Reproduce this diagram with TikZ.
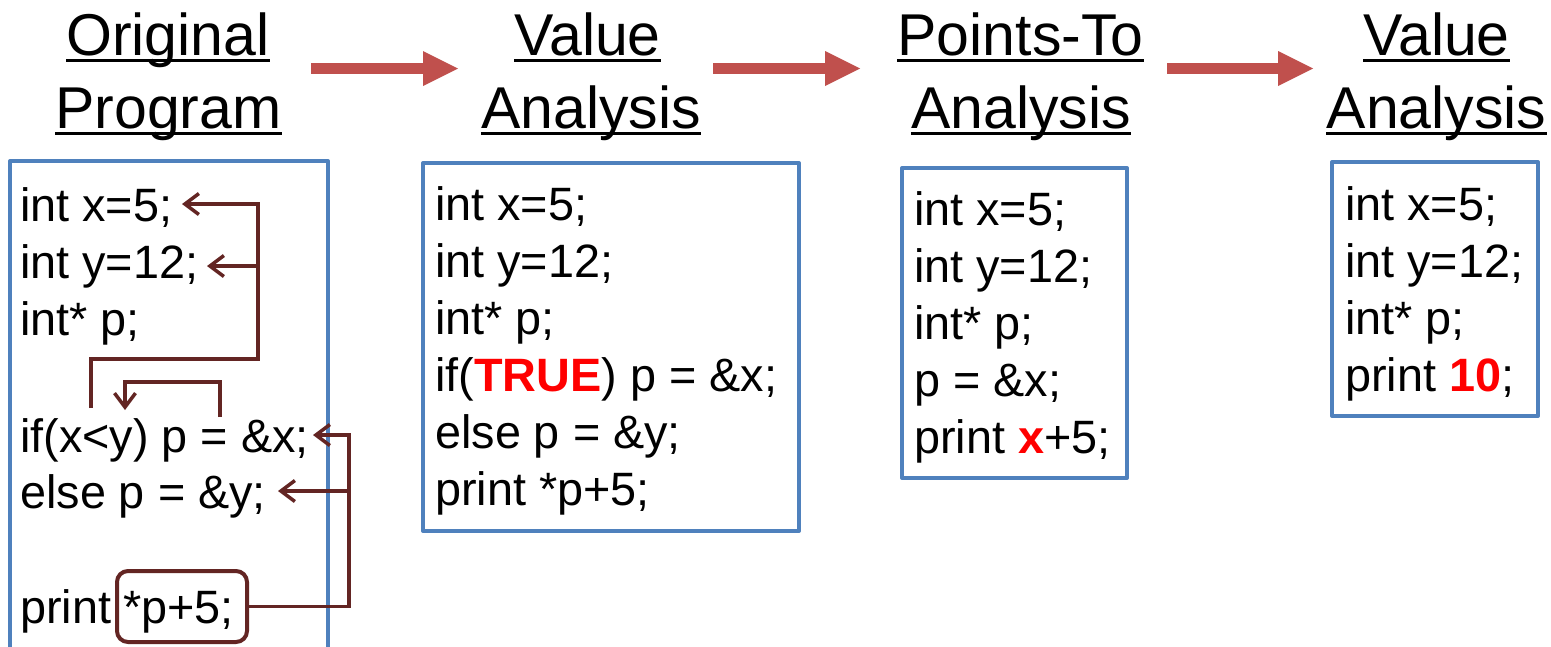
\documentclass[tikz,border=0pt]{standalone}
\usepackage{fontspec}
\setmainfont{Liberation Sans}
\usetikzlibrary{arrows.meta}
\definecolor{boxblue}{HTML}{4F81BD}
\definecolor{arrred}{HTML}{C0504D}
\definecolor{connred}{HTML}{632523}
\definecolor{hired}{HTML}{FF0000}
\begin{document}
\begin{tikzpicture}[x=1pt,y=-1pt,
  title/.style={anchor=base, inner sep=0pt, font=\fontsize{59}{65}\selectfont},
  code/.style={anchor=base west, inner sep=0pt, font=\fontsize{46.8}{50}\selectfont},
  codebox/.style={draw=boxblue, line width=4pt, line join=round},
  bigarrow/.style={draw=arrred, line width=11pt, -{Triangle[length=35pt,width=35pt,line width=0pt]}},
  conn/.style={draw=connred, line width=3.5pt},
  connarrow/.style={conn, -{Straight Barb[length=14pt,width=21pt]}},
  uline/.style={line width=3pt}]
\useasboundingbox (0,0) rectangle (1551,646);

% titles
\node[title] (t1a) at (168,55) {Original};
\node[title] (t1b) at (168.5,128) {Program};
\node[title] (t2a) at (587.5,55) {Value};
\node[title] (t2b) at (591,128) {Analysis};
\node[title] (t3a) at (1020.5,55) {Points-To};
\node[title] (t3b) at (1021,128) {Analysis};
\node[title] (t4a) at (1436.5,55) {Value};
\node[title] (t4b) at (1436.5,128) {Analysis};
\foreach \t in {t1a,t1b,t2a,t2b,t3a,t3b,t4a,t4b}
  \draw[uline] ([yshift=-5.5pt]\t.base west) -- ([yshift=-5.5pt]\t.base east);

% big arrows
\coordinate (a1s) at (311,68.5); \coordinate (a1e) at (458,68.5);
\coordinate (a2s) at (713,68.5); \coordinate (a2e) at (860,68.5);
\coordinate (a3s) at (1167,68.5); \coordinate (a3e) at (1313,68.5);
\draw[bigarrow] (a1s) -- (a1e);
\draw[bigarrow] (a2s) -- (a2e);
\draw[bigarrow] (a3s) -- (a3e);

% boxes
\draw[codebox] (10,161) rectangle (328,680);
\draw[codebox] (423,163) rectangle (799,531);
\draw[codebox] (902,168) rectangle (1127,478);
\draw[codebox] (1332,162) rectangle (1538,416);

% box 1 text
\node[code] (o1) at (20,221) {int x=5;};
\node[code] (o2) at (20,278) {int y=12;};
\node[code] (o3) at (20,335) {int* p;};
\node[code] (o4) at (20,452) {if(x<y) p = \&x;};
\node[code] (o5) at (20,508) {else p = \&y;};
\node[code] (o6) at (20,623) {print};
\node[code] (o7) at (123,623) {*p+5;};
\node[draw=connred, line width=4pt, rounded corners=11pt, minimum width=130pt, minimum height=71pt, inner sep=0pt] (pbox) at (182,606.5) {};

% box 1 connectors
\coordinate (ca1) at (91,408);
\coordinate (cj1) at (258,359);
\coordinate (cx) at (182,204);
\coordinate (cyb) at (258,266);
\coordinate (cy) at (207,266);
\draw[connarrow] (ca1) |- (cj1) |- (cx);
\draw[connarrow] (cyb) -- (cy);
\coordinate (cb1) at (220,417);
\coordinate (cb2) at (125,382);
\coordinate (cb3) at (125,410);
\draw[connarrow] (cb1) |- (cb2) -- (cb3);
\coordinate (cc1) at (349,435);
\coordinate (cc2) at (313,435);
\coordinate (cdb) at (349,491);
\coordinate (cd) at (278,491);
\draw[connarrow] (pbox.east) -| (cc1) -- (cc2);
\draw[connarrow] (cdb) -- (cd);

% box 2 text
\node[code] (v1) at (435,220) {int x=5;};
\node[code] (v2) at (435,277) {int y=12;};
\node[code] (v3) at (435,334) {int* p;};
\node[code] (v4) at (435,391) {if({\bfseries\color{hired}TRUE}) p = \&x;};
\node[code] (v5) at (435,448) {else p = \&y;};
\node[code] (v6) at (435,505) {print *p+5;};

% box 3 text
\node[code] (p1) at (914,225) {int x=5;};
\node[code] (p2) at (914,282) {int y=12;};
\node[code] (p3) at (914,339) {int* p;};
\node[code] (p4) at (914,396) {p = \&x;};
\node[code] (p5) at (914,453) {print {\bfseries\color{hired}x}+5;};

% box 4 text
\node[code] (w1) at (1345,220) {int x=5;};
\node[code] (w2) at (1345,277) {int y=12;};
\node[code] (w3) at (1345,334) {int* p;};
\node[code] (w4) at (1345,391) {print {\bfseries\color{hired}10};};
\end{tikzpicture}
\end{document}
